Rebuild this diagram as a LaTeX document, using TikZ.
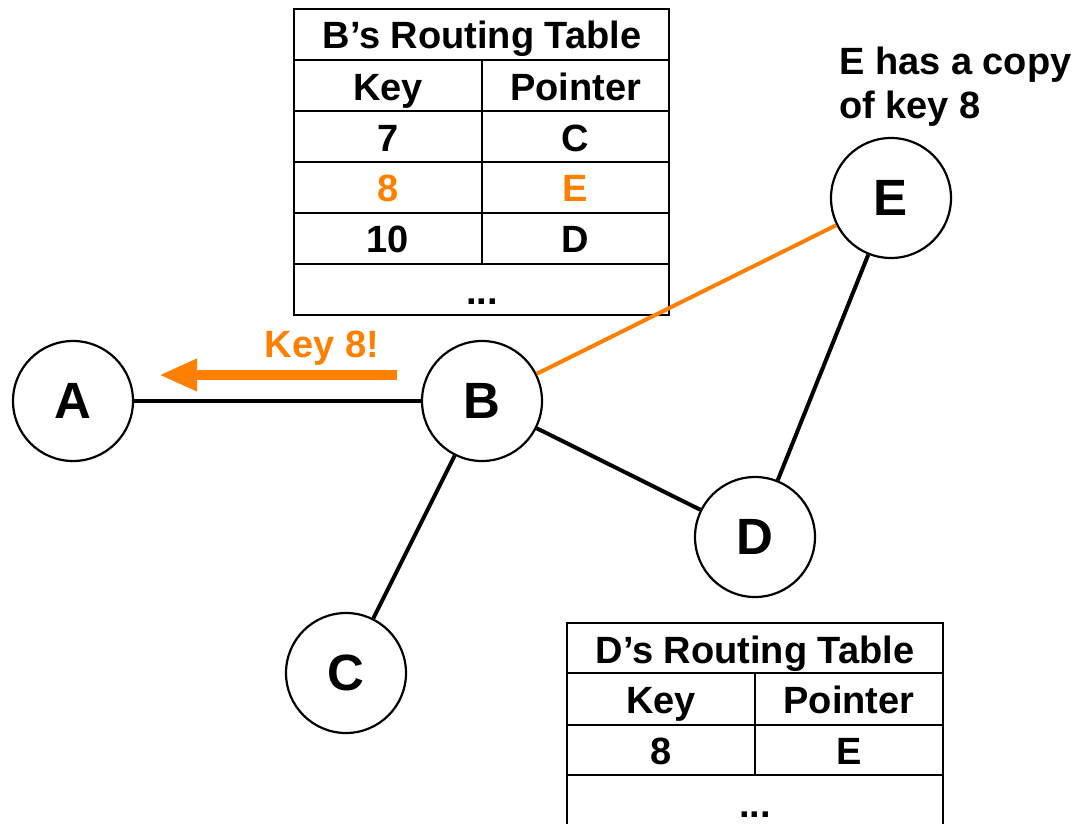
\documentclass[tikz,border=0pt]{standalone}
\usepackage{fontspec}
\setmainfont{Liberation Sans}
\usetikzlibrary{arrows.meta}
\definecolor{keyorange}{RGB}{255,128,0}
\newcommand{\peerlabel}[1]{\raisebox{-3pt}{#1}}
\begin{document}
\begin{tikzpicture}[x=1pt,y=-1pt,
  peer/.style={circle,draw,line width=2.2pt,fill=white,minimum size=120pt,
    inner sep=0pt,font=\fontsize{51}{51}\selectfont\bfseries},
  link/.style={line width=4pt},
  grid/.style={line width=2pt},
  cell/.style={anchor=base,inner sep=0pt,font=\fontsize{38}{44}\selectfont\bfseries},
  hit/.style={cell,text=keyorange},
  note/.style={anchor=base west,inner sep=0pt,font=\fontsize{38}{44}\selectfont\bfseries}
]
\useasboundingbox (0,0) rectangle (1080,824);

% --- B's routing table ---
\draw[grid] (294,9) rectangle (669,315);
\foreach \yy in {60,111,162,213,264} \draw[grid] (294,\yy) -- (669,\yy);
\draw[grid] (482,60) -- (482,264);
\node[cell] (btitle) at (482,49) {B’s Routing Table};
\node[cell] (bkey) at (388,101) {Key};
\node[cell] (bptr) at (575.5,101) {Pointer};
\node[cell] (bk7) at (388,152) {7};
\node[cell] (bp7) at (575.5,152) {C};
\node[hit]  (bk8) at (388,202) {8};
\node[hit]  (bp8) at (575.5,202) {E};
\node[cell] (bk10) at (388,252) {10};
\node[cell] (bp10) at (575.5,252) {D};
\node[cell] (bmore) at (482,304) {...};

% --- D's routing table (runs off the bottom edge) ---
\begin{scope}
\clip (0,0) rectangle (1080,824);
\draw[grid] (567,623) rectangle (943,860);
\foreach \yy in {673,725,775} \draw[grid] (567,\yy) -- (943,\yy);
\draw[grid] (755,673) -- (755,775);
\node[cell] (dtitle) at (755,663) {D’s Routing Table};
\node[cell] (dkey) at (661,713) {Key};
\node[cell] (dptr) at (849,713) {Pointer};
\node[cell] (dk8) at (661,764) {8};
\node[cell] (dp8) at (849,764) {E};
\node[cell] (dmore) at (755,817) {...};
\end{scope}

% --- peers ---
\node[peer] (A) at (73,401) {\peerlabel{A}};
\node[peer] (B) at (482,401) {\peerlabel{B}};
\node[peer] (C) at (346,673) {\peerlabel{C}};
\node[peer] (D) at (755,537) {\peerlabel{D}};
\node[peer] (E) at (891,198) {\peerlabel{E}};

% --- overlay links ---
\draw[link] (A) -- (B);
\draw[link] (B) -- (C);
\draw[link] (B) -- (D);
\draw[link] (E) -- (D);
\draw[link,keyorange] (B) -- (E);

% --- lookup message ---
\coordinate (msgstart) at (397,375);
\coordinate (msgend) at (159,375);
\draw[keyorange,line width=10.5pt,-{Triangle[length=38pt,width=30pt]}] (msgstart) -- (msgend);
\node[hit] (msg) at (322,357) {Key 8!};

% --- note on E ---
\node[note] (note1) at (839,75) {E has a copy};
\node[note] (note2) at (839,119) {of key 8};
\end{tikzpicture}
\end{document}
